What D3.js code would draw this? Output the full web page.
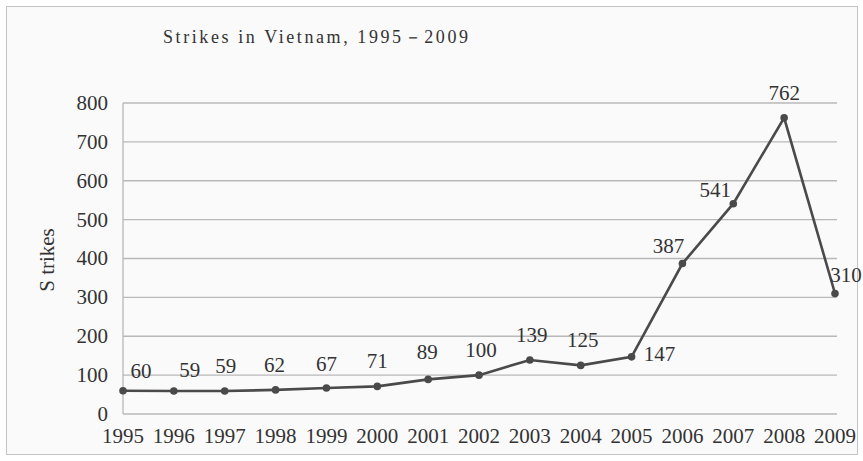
<!DOCTYPE html>
<meta charset="utf-8">
<style>
    body { margin: 0; background: #fff; }
    svg text { font-family: "Liberation Serif", "Times New Roman", Times, "DejaVu Serif", serif; fill: #333; }
</style>
<svg width="863" height="461"></svg>
<script src="https://d3js.org/d3.v7.min.js"></script>
<script>
    var years = ["1995", "1996", "1997", "1998", "1999", "2000", "2001", "2002",
                 "2003", "2004", "2005", "2006", "2007", "2008", "2009"];
    var strikes = [60, 59, 59, 62, 67, 71, 89, 100, 139, 125, 147, 387, 541, 762, 310];
    var yTicks = [0, 100, 200, 300, 400, 500, 600, 700, 800];

    // where each value label sits relative to its point (layout only)
    var labelOffset = {
        "1995": [18, -13], "1996": [16, -14], "1997": [1, -18], "1998": [-1, -18],
        "1999": [0, -17], "2000": [0, -18], "2001": [-1, -20], "2002": [2, -18],
        "2003": [2, -18], "2004": [2, -18], "2005": [28, 4], "2006": [-14, -11],
        "2007": [-18, -7], "2008": [0, -18], "2009": [11, -11]
    };

    var svg = d3.select("svg"),
        plotLeft = 123, plotRight = 835, plotTop = 103, plotBottom = 414,
        FONT = 21;

    svg.append("rect")
        .attr("x", 6.5).attr("y", 6.5)
        .attr("width", 851).attr("height", 448)
        .attr("fill", "#fafafa")
        .attr("stroke", "#c4c4c4");

    var x = d3.scalePoint().domain(years).range([plotLeft, plotRight]),
        y = d3.scaleLinear().domain([0, 800]).range([plotBottom, plotTop]);

    // gridlines
    svg.append("g")
        .selectAll("line")
        .data(yTicks)
        .enter()
        .append("line")
        .attr("x1", plotLeft)
        .attr("x2", plotRight + 2)
        .attr("y1", function (d) { return y(d); })
        .attr("y2", function (d) { return y(d); })
        .attr("stroke", "#b8b8b8")
        .attr("stroke-width", 1.3);

    svg.append("line")
        .attr("x1", plotLeft).attr("x2", plotLeft)
        .attr("y1", y(800)).attr("y2", y(0))
        .attr("stroke", "#b8b8b8")
        .attr("stroke-width", 1.3);

    // y axis labels
    svg.append("g")
        .selectAll("text")
        .data(yTicks)
        .enter()
        .append("text")
        .attr("x", 108)
        .attr("y", function (d) { return y(d); })
        .attr("dy", "0.33em")
        .attr("text-anchor", "end")
        .attr("font-size", FONT)
        .text(function (d) { return d; });

    // x axis labels
    svg.append("g")
        .selectAll("text")
        .data(years)
        .enter()
        .append("text")
        .attr("x", function (d) { return x(d); })
        .attr("y", 443)
        .attr("text-anchor", "middle")
        .attr("font-size", FONT)
        .text(function (d) { return d; });

    var points = years.map(function (d, i) {
        return {year: d, num: strikes[i]};
    });

    var line = d3.line()
        .x(function (d) { return x(d.year); })
        .y(function (d) { return y(d.num); });

    svg.append("path")
        .datum(points)
        .attr("d", line)
        .attr("fill", "none")
        .attr("stroke", "#4a4a4a")
        .attr("stroke-width", 2.6);

    svg.append("g")
        .selectAll("circle")
        .data(points)
        .enter()
        .append("circle")
        .attr("cx", function (d) { return x(d.year); })
        .attr("cy", function (d) { return y(d.num); })
        .attr("r", 3.8)
        .attr("fill", "#4a4a4a");

    svg.append("g")
        .selectAll("text")
        .data(points)
        .enter()
        .append("text")
        .attr("x", function (d) { return x(d.year) + labelOffset[d.year][0]; })
        .attr("y", function (d) { return y(d.num) + labelOffset[d.year][1]; })
        .attr("text-anchor", "middle")
        .attr("font-size", FONT)
        .text(function (d) { return d.num; });

    svg.append("text")
        .attr("x", 163)
        .attr("y", 43)
        .attr("font-size", 18)
        .attr("textLength", 305)
        .text("Strikes in Vietnam, 1995\uFF0D2009");

    svg.append("text")
        .attr("transform", "translate(54,260) rotate(-90)")
        .attr("text-anchor", "middle")
        .attr("font-size", FONT)
        .text("S trikes");
</script>
